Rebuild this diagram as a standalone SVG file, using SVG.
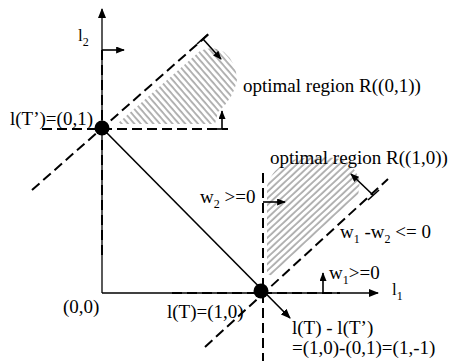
<svg xmlns="http://www.w3.org/2000/svg" width="450" height="361" viewBox="0 0 450 361">
<style>
text{font-family:"Liberation Serif","Times New Roman","DejaVu Serif",serif;font-size:19px;fill:#000}
text.ax-l{font-size:17px}
tspan.sub{font-size:12px}
.ax{stroke:#000;stroke-width:1.3;fill:none}
.dash{stroke:#000;stroke-width:2;stroke-dasharray:10 5;fill:none}
.sol{stroke:#000;stroke-width:1.6;fill:none}
.arr{stroke:#000;stroke-width:1.6;fill:none}
.hl{stroke:#6a6a6a;stroke-width:1}
</style>
<defs>
<marker id="ah" viewBox="0 0 10 8" refX="9" refY="4" markerWidth="10" markerHeight="8" orient="auto" markerUnits="userSpaceOnUse"><path d="M0,0 L10,4 L0,8 z" fill="#000"/></marker>
<marker id="sh" viewBox="0 0 10 8" refX="9" refY="4" markerWidth="9" markerHeight="7" orient="auto" markerUnits="userSpaceOnUse"><path d="M0,0 L10,4 L0,8 z" fill="#000"/></marker>
<pattern id="h1" width="4.8" height="10" patternUnits="userSpaceOnUse" patternTransform="rotate(-41)"><line class="hl" x1="1" y1="0" x2="1" y2="10"/></pattern>
<pattern id="h2" width="4.8" height="10" patternUnits="userSpaceOnUse" patternTransform="rotate(47)"><line class="hl" x1="1" y1="0" x2="1" y2="10"/></pattern>
</defs>
<g id="regions">
<path d="M117,124 L200,51 Q212,45 224,52 Q236,62 237,80 Q234,98 218,112 L215,124 Z" fill="url(#h1)"/>
<path d="M267,274 L267,186 Q272,168 292,160 Q320,154 345,160 Q355,168 360,180 L358,197 L273,276 Z" fill="url(#h2)"/>
</g>
<g id="axes">
<line class="ax" x1="102" y1="293" x2="102" y2="9" marker-end="url(#ah)"/>
<line class="ax" x1="102" y1="293" x2="378" y2="293" marker-end="url(#ah)"/>
</g>
<g id="connectors">
<line class="dash" x1="102" y1="50" x2="102" y2="260"/>
<line class="dash" x1="42" y1="129" x2="228" y2="129"/>
<line class="dash" x1="32" y1="190" x2="210" y2="33"/>
<line class="dash" x1="172" y1="293" x2="340" y2="293"/>
<line class="dash" x1="263" y1="173" x2="263" y2="361"/>
<line class="dash" x1="205" y1="347" x2="388" y2="179"/>
<line class="sol" x1="102" y1="128" x2="290" y2="318" marker-end="url(#ah)"/>
<line class="arr" x1="102" y1="50" x2="124" y2="50" marker-end="url(#sh)"/>
<line class="arr" x1="222" y1="129" x2="222" y2="111" marker-end="url(#sh)"/>
<line class="arr" x1="216" y1="129" x2="228" y2="129"/>
<line class="arr" x1="203" y1="39" x2="221" y2="59" marker-end="url(#sh)"/>
<line class="arr" x1="197" y1="44" x2="208" y2="34"/>
<line class="arr" x1="263" y1="202" x2="285" y2="202" marker-end="url(#sh)"/>
<line class="arr" x1="373" y1="195" x2="351" y2="174" marker-end="url(#sh)"/>
<line class="arr" x1="368" y1="200" x2="379" y2="190"/>
<line class="arr" x1="323" y1="293" x2="323" y2="273" marker-end="url(#sh)"/>
</g>
<g id="node-Tp"><circle cx="102" cy="128" r="7.5" fill="#000"/></g>
<g id="node-T"><circle cx="261" cy="291" r="7.5" fill="#000"/></g>
<g id="labels">
<text class="ax-l" x="78" y="41">l<tspan class="sub" dy="5">2</tspan></text>
<text x="10" y="125">l(T’)=(0,1)</text>
<text x="243" y="92">optimal region R((0,1))</text>
<text x="270" y="164">optimal region R((1,0))</text>
<text x="200" y="203">w<tspan class="sub" dy="5">2</tspan><tspan dy="-5"> &gt;=0</tspan></text>
<text x="340" y="238">w<tspan class="sub" dy="5">1</tspan><tspan dy="-5"> -w</tspan><tspan class="sub" dy="5">2</tspan><tspan dy="-5"> &lt;= 0</tspan></text>
<text x="329" y="279">w<tspan class="sub" dy="5">1</tspan><tspan dy="-5">&gt;=0</tspan></text>
<text class="ax-l" x="392" y="295">l<tspan class="sub" dy="5">1</tspan></text>
<text x="63" y="313">(0,0)</text>
<text x="167" y="318">l(T)=(1,0)</text>
<text x="292" y="334">l(T) - l(T’)</text>
<text x="292" y="354">=(1,0)-(0,1)=(1,-1)</text>
</g>
</svg>
